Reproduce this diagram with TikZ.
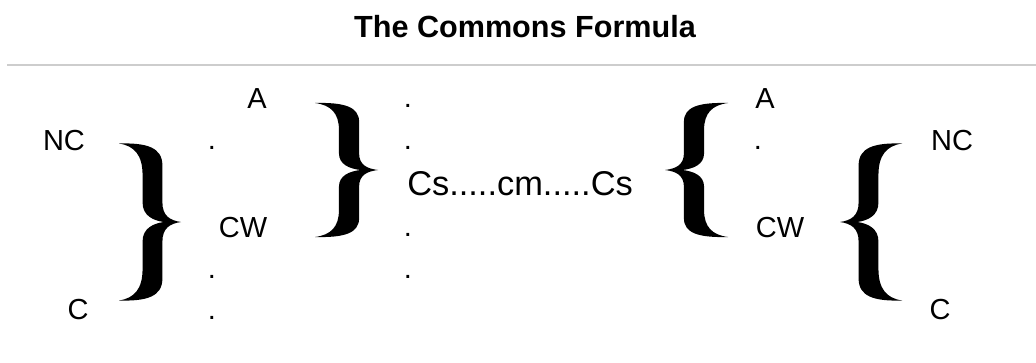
\documentclass[tikz,border=0pt]{standalone}
\usepackage{fontspec}
\setmainfont{Liberation Sans}
\usetikzlibrary{positioning}
\definecolor{ruleGray}{RGB}{205,205,205}

\begin{document}
\begin{tikzpicture}[
    x=0.5pt, y=-0.5pt,
    title/.style={font=\fontsize{15.3}{18}\selectfont\bfseries, inner sep=0pt, text height=10.9pt, text depth=0pt},
    term/.style={font=\fontsize{14.5}{17}\selectfont, inner sep=0pt, text height=10.4pt, text depth=0pt},
    core/.style={font=\fontsize{17.2}{20}\selectfont, inner sep=0pt, text height=12.2pt, text depth=0pt},
    ellip/.style={font=\fontsize{14.5}{17}\selectfont, inner sep=0pt, anchor=base},
    rbrace/.pic={
        \fill (0,1) .. controls (0.45,1.01) and (0.70,0.95) .. (0.70,0.72)
            -- (0.70,0.25) .. controls (0.70,0.08) and (0.82,0.02) .. (1,0)
            .. controls (0.82,-0.02) and (0.70,-0.08) .. (0.70,-0.25)
            -- (0.70,-0.72) .. controls (0.70,-0.95) and (0.45,-1.01) .. (0,-1)
            .. controls (0.25,-0.97) and (0.38,-0.85) .. (0.38,-0.6)
            -- (0.38,-0.25) .. controls (0.38,-0.08) and (0.55,-0.02) .. (0.72,0)
            .. controls (0.55,0.02) and (0.38,0.08) .. (0.38,0.25)
            -- (0.38,0.6) .. controls (0.38,0.85) and (0.25,0.97) .. (0,1) -- cycle;
    }
]
    \useasboundingbox (0,0) rectangle (1036,363);

    % Title
    \node[title] (heading) at (525,26.5) {The Commons Formula};
    \coordinate (ruleW) at (7,65);
    \coordinate (ruleE) at (1036,65);
    \draw[ruleGray, line width=1pt] (ruleW) -- (ruleE);

    % Left side
    \node[term] (ncL) at (64,140) {NC};
    \node[term] (cL) at (78,309) {C};
    \pic[xscale=62, yscale=78.5] (braceL1) at (119,222) {rbrace};
    \node[term] (aL) at (257,98) {A};
    \node[term] (cwL) at (243,227) {CW};
    \node[ellip] (dL1) at (212,149.5) {.};
    \node[ellip] (dL2) at (212,278.5) {.};
    \node[ellip] (dL3) at (212,319.5) {.};
    \pic[xscale=63, yscale=67] (braceL2) at (315,170) {rbrace};

    % Centre
    \node[ellip] (dM1) at (408,107.5) {.};
    \node[ellip] (dM2) at (408,149.5) {.};
    \node[core] (cs) at (520,183) {Cs.....cm.....Cs};
    \node[ellip] (dM3) at (408,236.5) {.};
    \node[ellip] (dM4) at (408,278.5) {.};

    % Right side
    \pic[xscale=-63, yscale=67] (braceR2) at (728,170) {rbrace};
    \node[term] (aR) at (765,98) {A};
    \node[ellip] (dR1) at (758,149.5) {.};
    \node[term] (cwR) at (780,227) {CW};
    \pic[xscale=-62, yscale=78.5] (braceR1) at (902,222) {rbrace};
    \node[term] (ncR) at (952,140) {NC};
    \node[term] (cR) at (940,309) {C};
\end{tikzpicture}
\end{document}
